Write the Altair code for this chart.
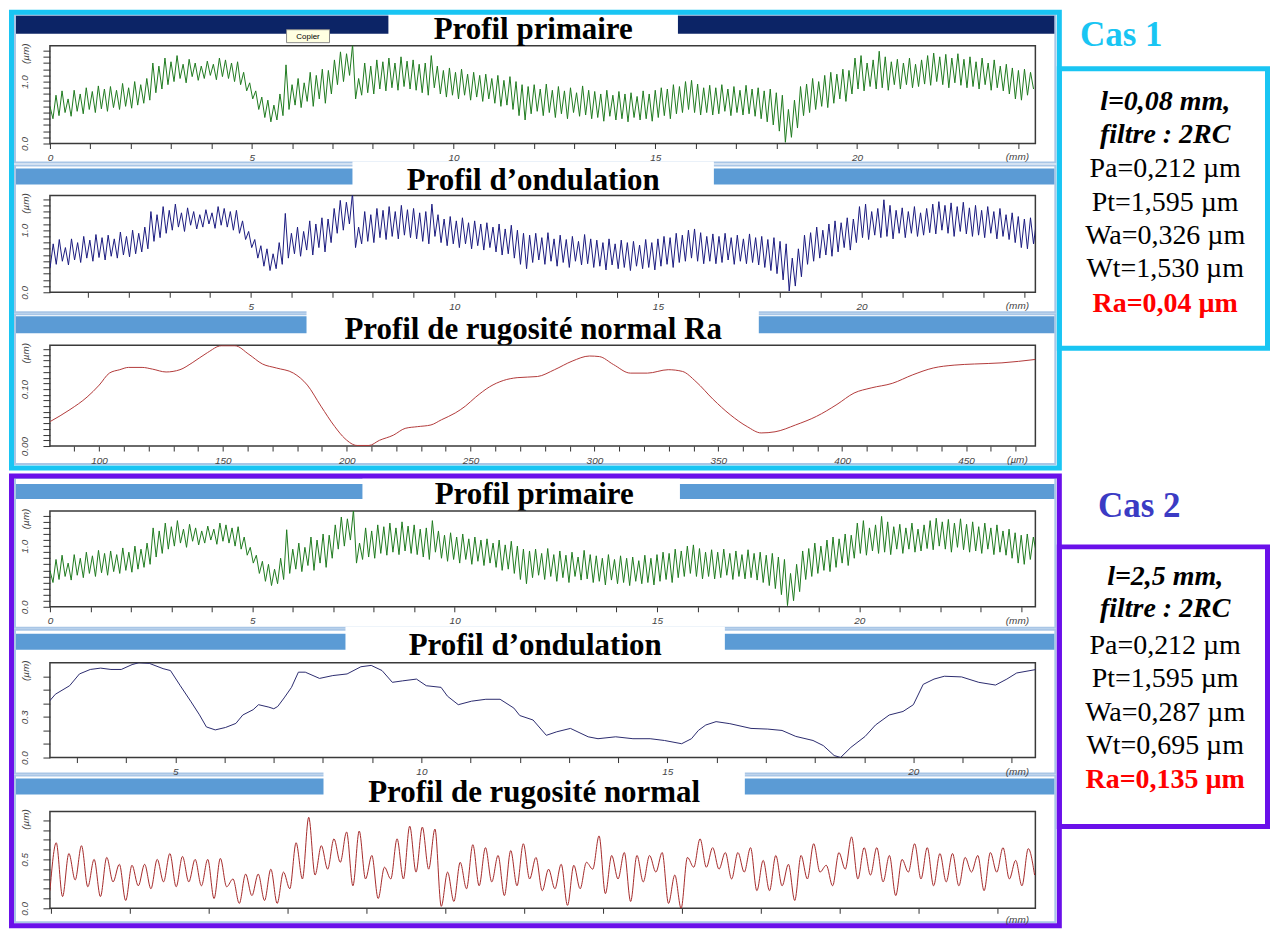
import altair as alt
import pandas as pd

# ================= données =================
# Profil primaire (identique pour Cas 1 et Cas 2), pas d'échantillonnage en mm
primaire_pas_mm = 0.075
primaire_um = [
    0.60, 0.40, 0.78, 0.45, 0.85, 0.50, 0.72, 0.44, 0.86, 0.52, 0.80, 0.48, 0.90, 0.55, 0.84, 0.50, 0.93, 0.56, 0.88, 0.52,
    0.92, 0.58, 0.86, 0.55, 0.97, 0.60, 0.90, 0.57, 1.00, 0.62, 0.95, 0.65, 1.05, 0.70, 1.30, 0.82, 1.25, 0.88, 1.38, 0.95,
    1.32, 1.00, 1.42, 1.05, 1.28, 0.98, 1.36, 1.08, 1.30, 1.02, 1.25, 1.05, 1.33, 1.10, 1.28, 1.03, 1.38, 1.08, 1.35, 1.05,
    1.30, 1.00, 1.32, 0.95, 1.15, 0.85, 0.98, 0.72, 0.85, 0.55, 0.75, 0.42, 0.70, 0.35, 0.62, 0.38, 0.80, 0.45, 1.27, 0.55,
    0.95, 0.62, 1.05, 0.58, 0.98, 0.68, 1.15, 0.60, 1.10, 0.72, 1.20, 0.65, 1.18, 0.80, 1.35, 0.95, 1.48, 1.00, 1.45, 1.10,
    1.60, 0.72, 1.05, 0.78, 1.30, 0.82, 1.25, 0.80, 1.35, 0.88, 1.32, 0.85, 1.38, 0.90, 1.30, 0.86, 1.40, 0.92, 1.33, 0.88,
    1.35, 0.86, 1.28, 0.82, 1.30, 0.78, 1.42, 0.90, 1.25, 0.80, 1.18, 0.75, 1.22, 0.78, 1.15, 0.72, 1.20, 0.78, 1.12, 0.70,
    1.15, 0.75, 1.10, 0.68, 1.12, 0.72, 1.05, 0.65, 1.10, 0.60, 1.02, 0.62, 1.08, 0.55, 1.00, 0.45, 0.95, 0.38, 0.92, 0.48,
    0.95, 0.52, 0.88, 0.45, 0.96, 0.50, 0.86, 0.42, 0.92, 0.48, 0.85, 0.40, 0.90, 0.50, 0.82, 0.44, 0.93, 0.46, 0.86, 0.40,
    0.84, 0.42, 0.80, 0.36, 0.86, 0.44, 0.78, 0.38, 0.84, 0.40, 0.80, 0.35, 0.82, 0.42, 0.76, 0.38, 0.85, 0.40, 0.80, 0.36,
    0.86, 0.42, 0.90, 0.45, 0.88, 0.40, 0.95, 0.48, 0.92, 0.50, 1.00, 0.55, 1.02, 0.50, 0.96, 0.46, 0.90, 0.50, 0.94, 0.46,
    0.90, 0.48, 0.95, 0.52, 0.88, 0.45, 0.92, 0.50, 0.86, 0.46, 0.94, 0.48, 0.88, 0.44, 0.90, 0.40, 0.85, 0.35, 0.88, 0.30,
    0.82, 0.20, 0.78, 0.02, 0.55, 0.10, 0.70, 0.25, 0.92, 0.45, 0.96, 0.50, 1.05, 0.55, 1.00, 0.60, 1.10, 0.58, 1.15, 0.65,
    1.12, 0.72, 1.20, 0.68, 1.18, 0.80, 1.38, 0.88, 1.42, 0.85, 1.30, 0.92, 1.35, 0.88, 1.49, 0.90, 1.40, 0.86, 1.32, 0.95,
    1.36, 0.88, 1.30, 0.95, 1.38, 0.90, 1.28, 0.92, 1.35, 0.96, 1.42, 0.94, 1.46, 1.00, 1.40, 0.95, 1.44, 0.90, 1.38, 0.98,
    1.45, 0.94, 1.36, 0.90, 1.40, 0.92, 1.32, 0.88, 1.38, 0.95, 1.30, 0.86, 1.35, 0.90, 1.25, 0.85, 1.28, 0.80, 1.22, 0.72,
    1.18, 0.70, 1.20, 0.78, 1.15, 0.88,
]
# Profil d'ondulation Cas 1 (lc = 0,08 mm) : visuellement identique au primaire
ondulation1_um = primaire_um

# Profil de rugosité Cas 1 (x en µm)
rugo1_x_um = [80.3, 88.3, 95.2, 100.1, 104.2, 108.4, 111.9, 117.4, 121.6, 127.1,
              132.7, 137.6, 143.8, 149.4, 154.9, 160.5, 166, 171.6, 178.5, 184.1,
              189.6, 195.2, 199.3, 204.2, 209, 213.2, 218.8, 223.6, 228.5, 234,
              238.2, 243.8, 247.9, 252.1, 257.7, 263.2, 268.8, 277, 283.9, 291,
              298, 302, 307.7, 314.5, 321.4, 329.8, 335.5, 341, 347.9, 354.8,
              361.7, 367.3, 372.9, 381.2, 389.6, 397.9, 404.8, 411.7, 420.2, 428.5,
              436.8, 445.2, 453.4, 464.5, 478]
rugo1_um = [0.043, 0.064, 0.086, 0.107, 0.128, 0.134, 0.138, 0.138, 0.135, 0.130,
            0.134, 0.146, 0.164, 0.176, 0.176, 0.161, 0.144, 0.137, 0.128, 0.107,
            0.070, 0.034, 0.013, 0.001, 0.001, 0.010, 0.019, 0.031, 0.034, 0.037,
            0.046, 0.058, 0.070, 0.086, 0.104, 0.115, 0.120, 0.122, 0.134, 0.149,
            0.158, 0.157, 0.143, 0.128, 0.128, 0.134, 0.131, 0.113, 0.082, 0.055,
            0.034, 0.023, 0.025, 0.037, 0.052, 0.073, 0.093, 0.102, 0.110, 0.125,
            0.137, 0.142, 0.144, 0.146, 0.152]

# Profil d'ondulation Cas 2 (lc = 2,5 mm)
ond2_x_mm = [2.44, 2.56, 2.85, 3.05, 3.27, 3.48, 3.69, 3.9, 4.12, 4.26,
             4.47, 4.75, 4.9, 5.1, 5.31, 5.49, 5.63, 5.81, 6.02, 6.23,
             6.37, 6.58, 6.69, 6.9, 7.0, 7.08, 7.21, 7.36, 7.5, 7.64,
             7.93, 8.2, 8.49, 8.77, 8.98, 9.2, 9.41, 9.62, 9.9, 10.1,
             10.4, 10.53, 10.75, 11.02, 11.31, 11.6, 11.88, 12.0, 12.27, 12.54,
             12.75, 13.03, 13.39, 13.59, 13.95, 14.3, 14.65, 14.94, 15.29, 15.49,
             15.63, 15.78, 15.99, 16.27, 16.7, 17.04, 17.33, 17.61, 17.96, 18.17,
             18.39, 18.52, 18.73, 19.02, 19.23, 19.51, 19.79, 20.0, 20.2, 20.42,
             20.63, 20.98, 21.33, 21.67, 21.9, 22.1, 22.5]
ond2_um = [0.416, 0.467, 0.53, 0.617, 0.65, 0.66, 0.65, 0.65, 0.686, 0.70,
           0.695, 0.656, 0.642, 0.53, 0.416, 0.315, 0.226, 0.204, 0.222, 0.252,
           0.314, 0.353, 0.39, 0.372, 0.36, 0.377, 0.44, 0.518, 0.63, 0.63,
           0.584, 0.605, 0.617, 0.67, 0.68, 0.642, 0.555, 0.566, 0.579, 0.53,
           0.518, 0.453, 0.39, 0.416, 0.43, 0.43, 0.365, 0.31, 0.277, 0.164,
           0.19, 0.215, 0.153, 0.139, 0.153, 0.139, 0.139, 0.126, 0.102, 0.139,
           0.2, 0.24, 0.265, 0.25, 0.215, 0.21, 0.2, 0.156, 0.126, 0.088,
           0.015, 0.0, 0.075, 0.156, 0.24, 0.314, 0.34, 0.39, 0.54, 0.579,
           0.6, 0.595, 0.555, 0.535, 0.579, 0.624, 0.65]

# Profil de rugosité Cas 2 (pics / creux successifs)
rugo2_debut_mm = 2.49
rugo2_pas_mm = 0.08
rugo2_um = [
    0.18, 0.67, 0.12, 0.56, 0.29, 0.64, 0.22, 0.50, 0.12, 0.52,
    0.27, 0.45, 0.08, 0.44, 0.23, 0.45, 0.20, 0.50, 0.27, 0.56,
    0.22, 0.53, 0.27, 0.50, 0.23, 0.50, 0.10, 0.51, 0.22, 0.30,
    0.05, 0.35, 0.13, 0.35, 0.08, 0.40, 0.05, 0.37, 0.20, 0.67,
    0.30, 0.93, 0.34, 0.64, 0.40, 0.71, 0.47, 0.78, 0.23, 0.79,
    0.30, 0.54, 0.10, 0.42, 0.30, 0.71, 0.30, 0.84, 0.37, 0.83,
    0.40, 0.81, 0.02, 0.37, 0.07, 0.47, 0.20, 0.65, 0.23, 0.62,
    0.27, 0.54, 0.13, 0.59, 0.23, 0.66, 0.30,
    0.52, 0.18, 0.40, 0.20, 0.45, 0.03, 0.44, 0.20, 0.47, 0.40,
    0.74, 0.15, 0.54, 0.30, 0.57, 0.07, 0.54, 0.27, 0.54, 0.37,
    0.57, 0.05, 0.34, 0.00, 0.52, 0.42, 0.71, 0.42, 0.62, 0.40,
    0.57, 0.30, 0.57, 0.37, 0.62, 0.18, 0.49, 0.18, 0.54, 0.23,
    0.45, 0.08, 0.54, 0.30, 0.66, 0.37, 0.44, 0.23, 0.57, 0.40,
    0.73, 0.30, 0.62, 0.34, 0.62, 0.27, 0.54, 0.13, 0.50, 0.37,
    0.66, 0.30, 0.62, 0.23, 0.56, 0.27, 0.56, 0.23, 0.52, 0.37,
    0.54, 0.18, 0.57, 0.37, 0.62, 0.30, 0.49, 0.23, 0.61, 0.34,
]

# ---------- graduations ----------
ticks_x_mm = list(range(0, 25))
labels_x_mm = [0, 5, 10, 15, 20]
ticks_x_um = list(range(80, 480, 10))
labels_x_um = [100, 150, 200, 250, 300, 350, 400, 450]
ticks_x_ond2 = list(range(3, 23))
labels_x_ond2 = [5, 10, 15, 20]
ticks_x_rugo2 = [2.5, 3.0, 3.5, 4.0, 4.5, 5.0, 5.5, 6.0, 6.5, 7.0, 7.5, 8.0, 8.5,
                 9.0, 9.5, 10.0, 10.5, 11.0, 11.5, 12.0, 12.5, 13.0, 13.5, 14.0, 14.5]
labels_x_rugo2 = [4, 6, 8, 10, 12, 14]
ticks_y_prim = [0.0, 0.1, 0.2, 0.3, 0.4, 0.5, 0.6, 0.7, 0.8, 0.9, 1.0, 1.1, 1.2, 1.3, 1.4, 1.5]
labels_y_prim = [0.0, 1.0]
ticks_y_rugo1 = [0.0, 0.01, 0.02, 0.03, 0.04, 0.05, 0.06, 0.07, 0.08, 0.09, 0.1,
                 0.11, 0.12, 0.13, 0.14, 0.15, 0.16, 0.17]
labels_y_rugo1 = [0.0, 0.1]
ticks_y_ond2 = [0.0, 0.1, 0.2, 0.3, 0.4, 0.5, 0.6]
labels_y_ond2 = [0.0, 0.3]
ticks_y_rugo2 = [0.0, 0.1, 0.2, 0.3, 0.4, 0.5, 0.6, 0.7, 0.8, 0.9]
labels_y_rugo2 = [0.0, 0.5]

# ---------- textes ----------
titres = ["Profil primaire", "Profil d’ondulation", "Profil de rugosité normal Ra",
          "Profil primaire", "Profil d’ondulation", "Profil de rugosité normal"]
cas_titres = ["Cas 1", "Cas 2"]
cas1_lignes = ["l=0,08 mm,", "filtre : 2RC", "Pa=0,212 µm", "Pt=1,595 µm",
               "Wa=0,326 µm", "Wt=1,530 µm", "Ra=0,04 µm"]
cas2_lignes = ["l=2,5 mm,", "filtre : 2RC", "Pa=0,212 µm", "Pt=1,595 µm",
               "Wa=0,287 µm", "Wt=0,695 µm", "Ra=0,135 µm"]
unites_x = ["(mm)", "(mm)", "(µm)", "(mm)", "(mm)", "(mm)"]

# ================= mise en page =================
W = 987
OX, OY = 49, 44               # origine du premier panneau (pixels de la page)
heights = [98, 97, 101, 96, 95, 97]
gaps = [52, 53, 65, 56, 54]
tops = [OY]
for h, g in zip(heights[:-1], gaps):
    tops.append(tops[-1] + h + g)
bottoms = [t + h for t, h in zip(tops, heights)]

CYAN = "#19C5F3"
PURPLE = "#6A10EA"
BLUE_TXT = "#3B3BC4"
HEADER = "#5B9BD5"
FRAME = "#3A3A3A"

# rectangles de décor (coordonnées page)
rect_rows = [(8, 8, 1271, 928, "white", "none", 0)]
windows = [(13, 161), (164, 311), (313, 463), (477, 627), (629, 773), (775, 922)]
for y0, y1 in windows:
    rect_rows.append((14, y0, 1056, y1, "white", "#A9C6E6", 2))
headers = [(14, 32, "#0C2466"), (167, 183, HEADER), (315, 332, HEADER),
           (483, 498, HEADER), (633, 649, HEADER), (778, 794, HEADER)]
for y0, y1, c in headers:
    rect_rows.append((15, y0, 1055, y1, c, "none", 0))
tboxes = [(388, 10, 678, 43), (352, 160, 714, 193), (306, 309, 759, 343),
          (362, 474, 680, 509), (345, 626, 725, 661), (323, 771, 745, 810)]
for x0, y0, x1, y1 in tboxes:
    rect_rows.append((x0, y0, x1, y1, "white", "none", 0))
rect_rows.append((286, 28, 329, 41, "#FFFFE1", "#8A8A8A", 1))
# cadre du premier graphique (dessiné ici car le décor recouvre le fond de vue)
rect_rows.append((OX, OY, OX + W, OY + heights[0], "none", FRAME, 1.5))
rect_rows += [
    (10.5, 10.5, 1060, 467, "none", CYAN, 5),
    (10.5, 475, 1060, 925.5, "none", PURPLE, 5),
    (1060, 67, 1268.5, 347, "none", CYAN, 5),
    (1060, 546, 1268.5, 826, "none", PURPLE, 5),
]
df_rect = pd.DataFrame(rect_rows, columns=["x0", "y0", "x1", "y1", "fill", "stroke", "sw"])
for c in ["x0", "x1"]:
    df_rect[c] = df_rect[c] - OX
for c in ["y0", "y1"]:
    df_rect[c] = df_rect[c] - OY


def px(col):
    return alt.X(col, type="quantitative", scale=None, axis=None)


def py(col):
    return alt.Y(col, type="quantitative", scale=None, axis=None)


deco_rect = alt.Chart(df_rect).mark_rect().encode(
    x=px("x0"), x2="x1", y=py("y0"), y2="y1",
    fill=alt.Fill("fill:N", scale=None),
    stroke=alt.Stroke("stroke:N", scale=None),
    strokeWidth=alt.StrokeWidth("sw:Q", scale=None),
)


def text_layer(rows, **mk):
    df = pd.DataFrame(rows, columns=["x", "y", "t", "c"])
    df["x"] = df["x"] - OX
    df["y"] = df["y"] - OY
    return alt.Chart(df).mark_text(**mk).encode(
        x=px("x"), y=py("y"), text="t:N", color=alt.Color("c:N", scale=None))


title_pos = [(533, 28), (533, 180), (533, 329), (534, 494), (535, 645), (534, 793)]
t_titles = text_layer([(x, y, t, "black") for (x, y), t in zip(title_pos, titres)],
                      font="Liberation Serif", fontSize=31, fontWeight="bold",
                      align="center", baseline="middle")
t_cas = text_layer([(1122, 33, cas_titres[0], CYAN), (1140, 505, cas_titres[1], BLUE_TXT)],
                   font="Liberation Serif", fontSize=35, fontWeight="bold",
                   align="center", baseline="middle")
ys1 = [100, 133, 168, 202, 235, 268, 303]
ys2 = [576, 608, 645, 678, 712, 745, 780]
bi_rows, n_rows, r_rows = [], [], []
for lignes, ys in [(cas1_lignes, ys1), (cas2_lignes, ys2)]:
    for i, (t, y) in enumerate(zip(lignes, ys)):
        row = (1166, y, t, "black" if i < 6 else "#FF0000")
        if i < 2:
            bi_rows.append(row)
        elif i < 6:
            n_rows.append(row)
        else:
            r_rows.append(row)
t_bi = text_layer(bi_rows, font="Liberation Serif", fontSize=28, fontWeight="bold",
                  fontStyle="italic", align="center", baseline="middle")
t_n = text_layer(n_rows, font="Liberation Serif", fontSize=28,
                 align="center", baseline="middle")
t_r = text_layer(r_rows, font="Liberation Serif", fontSize=28, fontWeight="bold",
                 align="center", baseline="middle")
t_cop = text_layer([(307.5, 35, "Copier", "black")], font="Liberation Sans", fontSize=8,
                   align="center", baseline="middle")
t_umy = text_layer([(25, t + 8, "(µm)", "#444") for t in tops],
                   font="Liberation Sans", fontSize=10, fontStyle="italic", angle=270,
                   align="center", baseline="middle")
ux_rows = []
for i, (b, u) in enumerate(zip(bottoms, unites_x)):
    ux_rows.append((1018, b + (12 if i == 5 else 14), u, "#444"))
t_umx = text_layer(ux_rows, font="Liberation Sans", fontSize=10, fontStyle="italic",
                   align="center", baseline="middle")


def lab_expr(vals):
    return "indexof([" + ",".join(repr(float(v)) for v in vals) + "], datum.value) >= 0 ? datum.label : ''"


def profil(df, color, xdom, ydom, xticks, xlabels, xfmt, yticks, ylabels, yfmt,
           interp="linear", xpad=4):
    common = dict(title=None, grid=False, domain=False, tickColor="#333", tickWidth=1,
                  labelFont="Liberation Sans", labelFontStyle="italic", labelFontSize=10,
                  labelColor="#444", labelOverlap=False, labelFlush=False, zindex=1)
    x = alt.X("x:Q", scale=alt.Scale(domain=xdom, nice=False, zero=False),
              axis=alt.Axis(values=xticks, labelExpr=lab_expr(xlabels), format=xfmt,
                            tickSize=5, labelPadding=xpad, **common))
    y = alt.Y("y:Q", scale=alt.Scale(domain=ydom, nice=False, zero=False),
              axis=alt.Axis(values=yticks, labelExpr=lab_expr(ylabels), format=yfmt,
                            tickSize=7, labelAngle=270, labelAlign="center",
                            labelBaseline="bottom", labelPadding=13, **common))
    return alt.Chart(df).mark_line(color=color, strokeWidth=1, clip=True,
                                   interpolate=interp).encode(x=x, y=y)


df_prim = pd.DataFrame({"x": [i * primaire_pas_mm for i in range(len(primaire_um))],
                        "y": primaire_um})
df_ond1 = pd.DataFrame({"x": [i * primaire_pas_mm for i in range(len(ondulation1_um))],
                        "y": ondulation1_um})
df_rugo1 = pd.DataFrame({"x": rugo1_x_um, "y": rugo1_um})
df_ond2 = pd.DataFrame({"x": ond2_x_mm, "y": ond2_um})
df_rugo2 = pd.DataFrame({"x": [rugo2_debut_mm + i * rugo2_pas_mm for i in range(len(rugo2_um))],
                         "y": rugo2_um})

VIEW = alt.ViewBackground(stroke=FRAME, strokeWidth=1.5, fill="white")

l1 = profil(df_prim, "#1F7A1F", [0, 24.42], [0, 1.58], ticks_x_mm, labels_x_mm, "d",
            ticks_y_prim, labels_y_prim, ".1f")
l2 = profil(df_ond1, "#1B1B80", [0.07, 24.27], [0, 1.56], ticks_x_mm, labels_x_mm, "d",
            ticks_y_prim, labels_y_prim, ".1f")
l3 = profil(df_rugo1, "#B23A3A", [80.2, 478], [0, 0.177], ticks_x_um, labels_x_um, "d",
            ticks_y_rugo1, labels_y_rugo1, ".2f", interp="monotone")
l4 = profil(df_prim, "#1F7A1F", [0, 24.35], [0, 1.58], ticks_x_mm, labels_x_mm, "d",
            ticks_y_prim, labels_y_prim, ".1f")
l5 = profil(df_ond2, "#2B2B6E", [2.45, 22.48], [0, 0.70], ticks_x_ond2, labels_x_ond2, "d",
            ticks_y_ond2, labels_y_ond2, ".1f")
l6 = profil(df_rugo2, "#A52A2A", [2.49, 14.98], [0, 0.99], ticks_x_rugo2, labels_x_rugo2, "d",
            ticks_y_rugo2, labels_y_rugo2, ".1f", interp="monotone", xpad=3)

p1 = alt.layer(deco_rect, t_titles, t_cas, t_bi, t_n, t_r, t_cop, t_umy, t_umx, l1).resolve_scale(
    x="independent", y="independent").properties(width=W, height=heights[0], view=VIEW)


def spacer(h):
    return alt.Chart(pd.DataFrame({"v": [0]})).mark_point(opacity=0).encode(
        x=alt.X("v:Q", axis=None), y=alt.Y("v:Q", axis=None)
    ).properties(width=W, height=h, view=alt.ViewBackground(stroke=None))


cells = [p1]
for line, h, g in zip([l2, l3, l4, l5, l6], heights[1:], gaps):
    cells.append(spacer(g))
    cells.append(line.properties(width=W, height=h, view=VIEW))

chart = alt.vconcat(*cells, spacing=0, bounds="flush").properties(
    padding=0
).configure_view(stroke=None)

chart.save("out.html", embed_options={"renderer": "svg", "actions": False})
